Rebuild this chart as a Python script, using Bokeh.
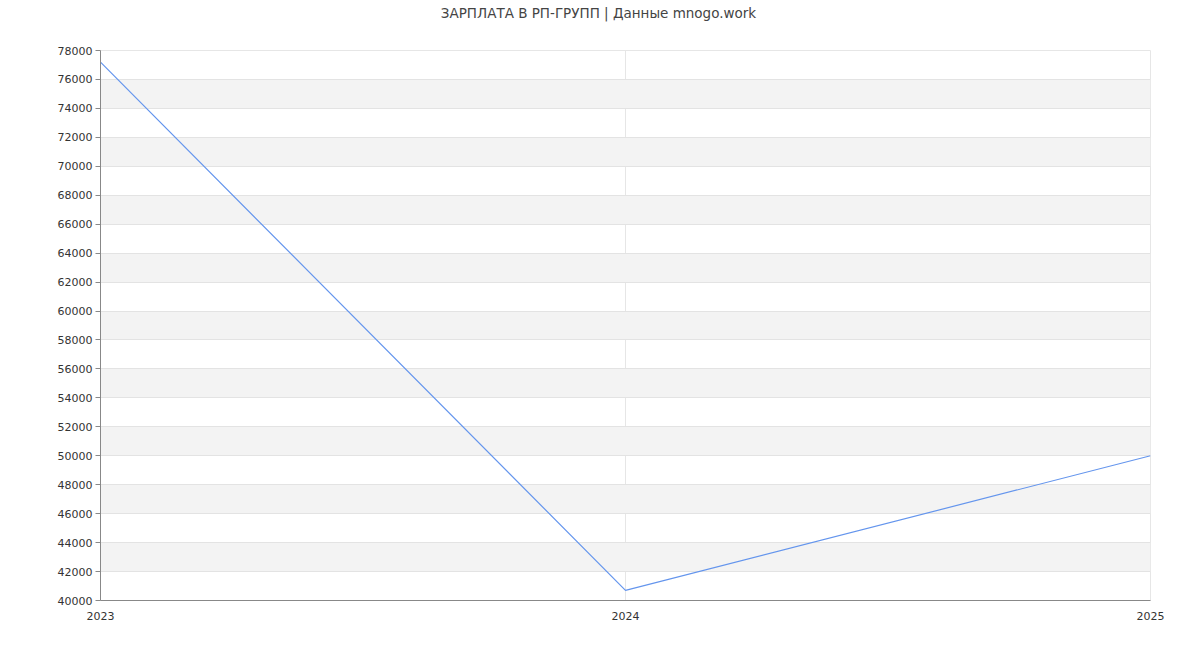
from bokeh.plotting import figure
from bokeh.layouts import column
from bokeh.models import Range1d, FixedTicker
from bokeh.core.properties import value
from bokeh.embed import file_html
from bokeh.resources import INLINE

years = [2023, 2024, 2025]
salary = [77200, 40700, 50000]
y_ticks = list(range(40000, 78001, 2000))
title_text = "ЗАРПЛАТА В РП-ГРУПП | Данные mnogo.work"

# heading strip above the chart; its frame spans the same pixels as the chart's,
# so the x range is given in page pixels
head = figure(width=1200, height=40, output_backend="svg", toolbar_location=None,
              x_range=Range1d(100, 1150), y_range=Range1d(0, 40),
              min_border_left=100, min_border_right=50,
              min_border_top=0, min_border_bottom=0)
head.axis.visible = False
head.grid.visible = False
head.outline_line_color = None
head.text(x=[598], y=[28], text=[title_text], text_align="center",
          text_baseline="middle", text_font=value("DejaVu Sans"),
          text_font_size="13.5px", text_color="#444444")

p = figure(width=1200, height=610, output_backend="svg", toolbar_location=None,
           x_range=Range1d(2023, 2025), y_range=Range1d(40000, 78000),
           min_border_left=100, min_border_right=50, min_border_top=10,
           min_border_bottom=50)
p.outline_line_color = "#e6e6e6"
p.background_fill_color = "white"

p.line(years, salary, line_color="#6495ed", line_width=1.2)

p.xaxis.ticker = FixedTicker(ticks=years)
p.yaxis.ticker = FixedTicker(ticks=y_ticks)
for ax in (p.xaxis, p.yaxis):
    ax.axis_line_color = "#888888"
    ax.major_label_text_font = "DejaVu Sans"
    ax.major_label_text_font_size = "11px"
    ax.major_label_text_color = "#333333"
    ax.minor_tick_line_color = None
p.xaxis.major_tick_line_color = None
p.xaxis.major_label_standoff = 5
p.yaxis.major_tick_line_color = "#888888"
p.yaxis.major_tick_in = 0
p.yaxis.major_tick_out = 5
p.yaxis.major_label_standoff = 3

p.ygrid.grid_line_color = "#e3e3e3"
p.ygrid.band_fill_color = "#f3f3f3"
p.ygrid.band_fill_alpha = 1.0
p.xgrid.grid_line_color = "#e6e6e6"

layout = column(head, p, spacing=0)
open("out.html", "w").write(file_html(layout, INLINE))
